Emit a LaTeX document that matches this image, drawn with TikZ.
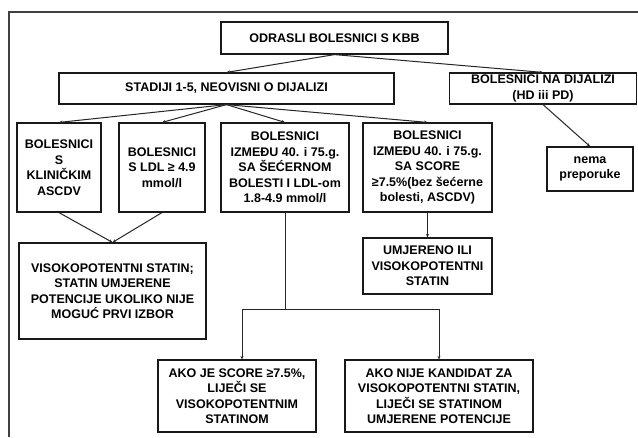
\documentclass[tikz,border=0pt]{standalone}
\usepackage{fontspec}
\setmainfont{Liberation Sans}
\usetikzlibrary{arrows.meta}
\begin{document}
\begin{tikzpicture}[x=1pt,y=-1pt,
  box/.style={draw=black!90,line width=1.2pt,rectangle,inner sep=0pt,align=center,
    font=\fontsize{12.5}{15.5}\selectfont\bfseries},
  arr/.style={-{Stealth[length=3.5pt,width=3pt]},line width=1pt,draw=black!85},
  ln/.style={line width=1pt,draw=black!85}]
\useasboundingbox (0,0) rectangle (638,437);
\fill[white] (0,0) rectangle (638,437);
\draw[line width=1.5pt,black!75] (9,437) -- (9,12) -- (639,12);
\node[box,minimum width=227,minimum height=32] (odr) at (334.5,38) {ODRASLI BOLESNICI S KBB};
\node[box,minimum width=335,minimum height=31] (stad) at (226.5,88.5) {STADIJI 1-5, NEOVISNI O DIJALIZI};
\node[box,minimum width=187,minimum height=31] (dij) at (543,88.5) {BOLESNICI NA DIJALIZI\\(HD iii PD)};
\node[box,minimum width=84,minimum height=89] (b1) at (59,167.5) {BOLESNICI\\S\\KLINIČKIM\\ASCDV};
\node[box,minimum width=86,minimum height=89] (b2) at (162,167.5) {BOLESNICI\\S LDL ≥ 4.9\\mmol/l};
\node[box,minimum width=128,minimum height=89] (b3) at (285,167.5) {BOLESNICI\\IZMEĐU 40. i 75.g.\\SA ŠEĆERNOM\\BOLESTI I LDL-om\\1.8-4.9 mmol/l};
\node[box,minimum width=129,minimum height=89] (b4) at (427.5,167.5) {BOLESNICI\\IZMEĐU 40. i 75.g.\\SA SCORE\\≥7.5\%(bez šećerne\\bolesti, ASCDV)};
\node[box,minimum width=86,minimum height=44] (nema) at (590,169) {nema\\preporuke};
\node[box,minimum width=187,minimum height=96] (viso) at (112.5,291) {VISOKOPOTENTNI STATIN;\\STATIN UMJERENE\\POTENCIJE UKOLIKO NIJE\\MOGUĆ PRVI IZBOR};
\node[box,minimum width=129,minimum height=56] (umj) at (427.5,266) {UMJERENO ILI\\VISOKOPOTENTNI\\STATIN};
\node[box,minimum width=158,minimum height=72] (akoje) at (237,396) {AKO JE SCORE ≥7.5\%,\\LIJEČI SE\\VISOKOPOTENTNIM\\STATINOM};
\node[box,minimum width=188,minimum height=72] (akonije) at (439,396) {AKO NIJE KANDIDAT ZA\\VISOKOPOTENTNI STATIN,\\LIJEČI SE STATINOM\\UMJERENE POTENCIJE};
\draw[arr] (odr.south) -- (stad.north);
\draw[arr] (odr.south) -- (dij.north);
\draw[arr] (stad.south) -- (b1.north);
\draw[arr] (stad.south) -- (b2.north);
\draw[arr] (stad.south) -- (b3.north);
\draw[arr] (stad.south) -- (b4.north);
\draw[arr] (dij.south) -- (nema.north);
\draw[arr] (b1.south) -- (viso.north);
\draw[arr] (b2.south) -- (viso.north);
\draw[arr] (b4.south) -- (umj.north);
\draw[ln] (b3.south) -- ++(0,97) coordinate (j);
\coordinate (jl) at ([xshift=5pt]akoje.north);
\draw[arr] (j) -| (jl);
\draw[arr] (j) -| (akonije.north);
\end{tikzpicture}
\end{document}
